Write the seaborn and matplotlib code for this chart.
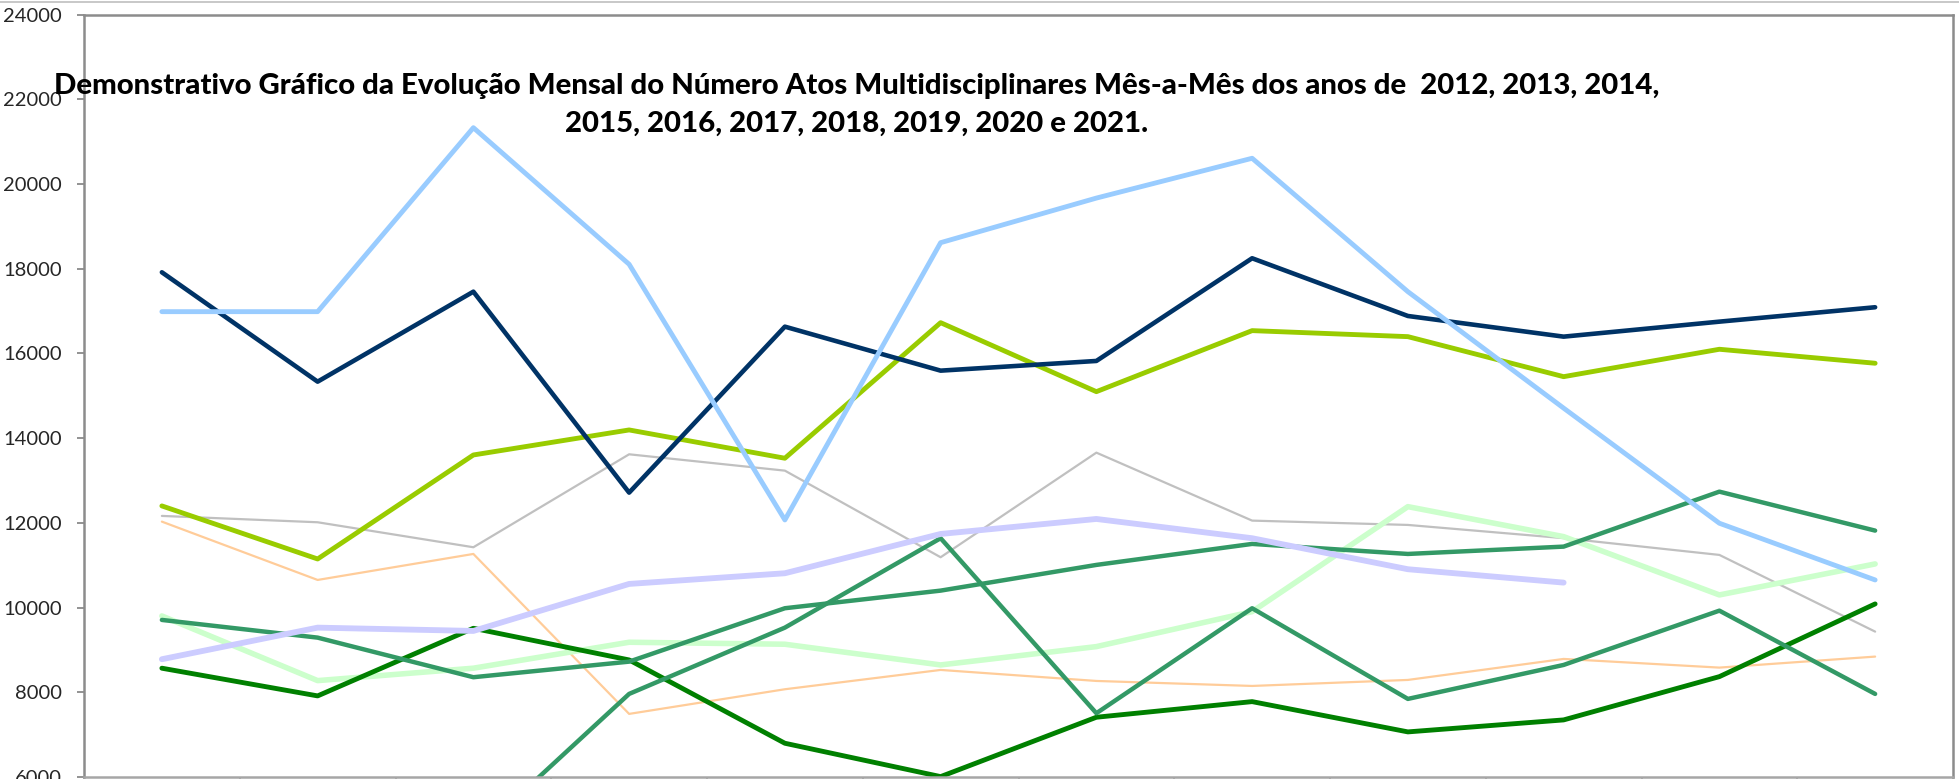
import numpy as np
import pandas as pd
import matplotlib
matplotlib.use("Agg")
import matplotlib.pyplot as plt
from matplotlib.lines import Line2D
import seaborn as sns

# Dados
meses = ["Jan", "Fev", "Mar", "Abr", "Mai", "Jun", "Jul", "Ago", "Set", "Out", "Nov", "Dez"]

serie_cinza = [12165, 12015, 11425, 13620, 13234, 11189, 13659, 12054, 11952, 11640, 11244, 9433]
serie_pessego = [12030, 10653, 11267, 7490, 8072, 8528, 8268, 8150, 8292, 8788, 8583, 8843]
serie_verde_claro = [9803, 8276, 8569, 9182, 9135, 8646, 9079, 9905, 12384, 11676, 10299, 11031]
serie_verde_escuro = [8569, 7915, 9512, 8764, 6797, 6009, 7411, 7780, 7065, 7348, 8370, 10087]
serie_verde_mar_a = [9709, 9291, 8356, 8724, 9985, 10401, 11008, 11504, 11267, 11440, 12738, 11818]
serie_verde_mar_b = [4400, 4500, 4570, 7962, 9527, 11638, 7506, 9985, 7844, 8646, 9928, 7962]
serie_lavanda = [8781, 9527, 9449, 10559, 10811, 11739, 12093, 11638, 10906, 10590, np.nan, np.nan]
serie_amarelo = [12401, 11148, 13604, 14195, 13527, 16728, 15099, 16540, 16398, 15453, 16100, 15770]
serie_marinho = [17918, 15335, 17460, 12715, 16634, 15595, 15824, 18249, 16886, 16398, 16752, 17092]
serie_azul_claro = [16988, 16988, 21332, 18107, 12070, 18617, 19670, 20610, 17460, 14710, 11992, 10653]

yticks = [6000, 8000, 10000, 12000, 14000, 16000, 18000, 20000, 22000, 24000]

titulo_1 = ("Demonstrativo Gráfico da Evolução Mensal do Número Atos Multidisciplinares "
            "Mês-a-Mês dos anos de  2012, 2013, 2014,")
titulo_2 = "2015, 2016, 2017, 2018, 2019, 2020 e 2021."

# (valores, cor, espessura)
series = [
    (serie_cinza, "#C0C0C0", 1.6),
    (serie_pessego, "#FFCC99", 1.6),
    (serie_verde_claro, "#CCFFCC", 4.0),
    (serie_verde_escuro, "#008000", 3.5),
    (serie_verde_mar_a, "#339966", 3.2),
    (serie_verde_mar_b, "#339966", 3.2),
    (serie_lavanda, "#CCCCFF", 4.2),
    (serie_amarelo, "#99CC00", 3.5),
    (serie_marinho, "#003366", 3.3),
    (serie_azul_claro, "#99CCFF", 3.5),
]

sns.set_style("white")
plt.rcParams["font.family"] = ["Lato", "DejaVu Sans"]

fig = plt.figure(figsize=(19.59, 7.79), dpi=100)
ax = fig.add_axes([84 / 1959, 2 / 779, (1953 - 84) / 1959, (777 - 14.7) / 779])

x = np.arange(len(meses))
for valores, cor, lw in series:
    df = pd.DataFrame({"mes": x, "valor": valores}).dropna()
    sns.lineplot(data=df, x="mes", y="valor", ax=ax, color=cor, linewidth=lw,
                 solid_capstyle="round", solid_joinstyle="round")

ax.set_xlim(-0.5, len(meses) - 0.5)
ax.set_ylim(yticks[0], yticks[-1])
ax.set_yticks(yticks)
ax.set_yticklabels([str(v) for v in yticks])
ax.set_xticks(np.arange(len(meses) + 1) - 0.5)
ax.set_xticklabels([])
ax.set_xlabel("")
ax.set_ylabel("")

ax.tick_params(axis="y", direction="out", length=5, width=1.2, color="#808080",
               labelsize=14.5, labelcolor="#262626", pad=11, left=True)
ax.tick_params(axis="x", direction="out", length=6, width=1.2, color="#A0A0A0", bottom=True)

for lado, spine in ax.spines.items():
    spine.set_visible(True)
    spine.set_color("#8C8C8C")
    spine.set_linewidth(1.8)
ax.spines["bottom"].set_color("#A6A6A6")

# borda externa do gráfico
fig.add_artist(Line2D([0, 1], [1 - 1.5 / 779, 1 - 1.5 / 779], transform=fig.transFigure,
                      color="#BFBFBF", linewidth=1.2))

fig.text(857 / 1959, 1 - 94 / 779, titulo_1, ha="center", va="baseline",
         fontsize=21.2, fontweight="black", color="black")
fig.text(857 / 1959, 1 - 132 / 779, titulo_2, ha="center", va="baseline",
         fontsize=21.2, fontweight="black", color="black")

fig.savefig("out.png", dpi=100, facecolor="white")
